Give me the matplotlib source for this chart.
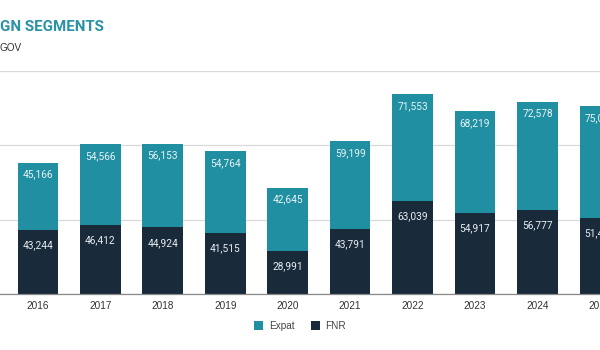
import matplotlib
matplotlib.use("Agg")
import matplotlib.pyplot as plt
from matplotlib.patches import Patch

years = ["2016", "2017", "2018", "2019", "2020", "2021", "2022", "2023", "2024", "2025"]
expat = [45166, 54566, 56153, 54764, 42645, 59199, 71553, 68219, 72578, 75068]
fnr = [43244, 46412, 44924, 41515, 28991, 43791, 63039, 54917, 56777, 51472]

TEAL = "#1f8fa1"
NAVY = "#192a3a"

fig = plt.figure(figsize=(6, 3.5), dpi=100)
ax = fig.add_axes([0, 0.159, 1, 0.638])
x = list(range(len(years)))
w = 0.65
ax.bar(x, fnr, width=w, color=NAVY, zorder=3)
ax.bar(x, expat, width=w, bottom=fnr, color=TEAL, zorder=3)

ax.set_xlim(-0.606, 8.96)
ax.set_ylim(0, 150000)
ax.set_yticks([0, 50000, 100000, 150000])
ax.set_yticklabels([])
ax.tick_params(axis="y", length=0)
ax.grid(axis="y", color="#d9d9d9", linewidth=0.9, zorder=0)
for s in ["top", "left", "right"]:
    ax.spines[s].set_visible(False)
ax.spines["bottom"].set_color("#888888")
ax.spines["bottom"].set_linewidth(0.9)
ax.spines["bottom"].set_zorder(4)
ax.set_xticks(x)
ax.set_xticklabels(years, fontsize=7.2, color="#333333", family="Liberation Sans")
ax.tick_params(axis="x", length=0, pad=5)

for i in x:
    ax.annotate(f"{fnr[i]:,}", (i, fnr[i]), xytext=(0, -11), textcoords="offset points",
                ha="center", va="center", fontsize=7.3, color="#e8eef2", family="Roboto",
                zorder=5, annotation_clip=False)
    ax.annotate(f"{expat[i]:,}", (i, fnr[i] + expat[i]), xytext=(0, -8.5), textcoords="offset points",
                ha="center", va="center", fontsize=7.3, color="#e8f4f6", family="Roboto",
                zorder=5, annotation_clip=False)

fig.text(0.0, 350 - 27, "GN SEGMENTS", transform=None, fontsize=10.8, fontweight="bold",
         color="#2a93a6", family="Roboto", ha="left", va="center")
fig.text(0.0, 350 - 48, "GOV", transform=None, fontsize=7.2, color="#333333",
         family="Liberation Sans", ha="left", va="center")

handles = [Patch(facecolor=TEAL, label="Expat"), Patch(facecolor=NAVY, label="FNR")]
fig.legend(handles=handles, loc="center", bbox_to_anchor=(0.5, (350 - 326) / 350), ncol=2,
           frameon=False, prop={"family": "Liberation Sans", "size": 7.2},
           handlelength=0.9, handleheight=0.9, columnspacing=1.6, handletextpad=0.6,
           labelcolor="#444444")

fig.savefig("out.png", dpi=100)
